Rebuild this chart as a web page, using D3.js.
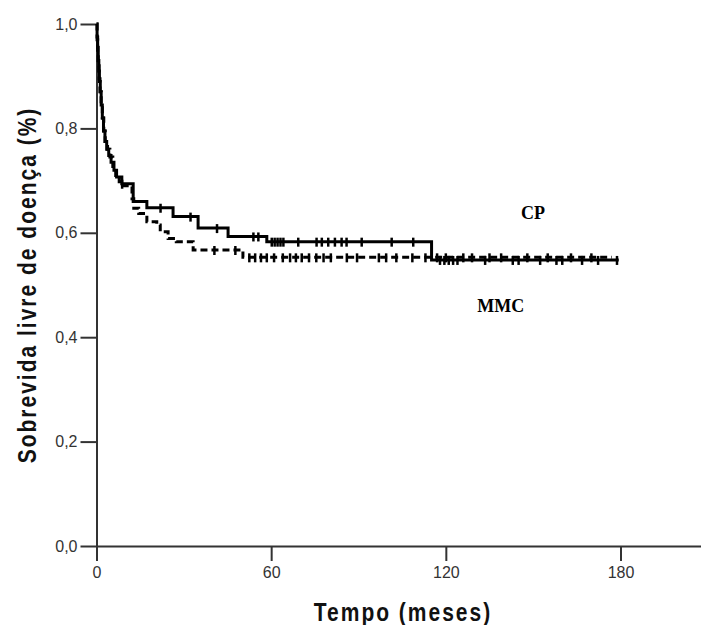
<!DOCTYPE html>
<html>
<head>
<meta charset="utf-8">
<script src="https://cdn.jsdelivr.net/npm/d3@7"></script>
<style>
  html, body { margin: 0; padding: 0; background: #fff; }
  svg { display: block; }
</style>
</head>
<body>
<div id="chart"></div>
<script>
// Kaplan-Meier steps (months, survival after the drop)
const cpTimes = [0, 0.2, 0.4, 0.6, 0.8, 1.0, 1.3, 1.6, 2.0, 2.4, 2.9, 3.5, 4.2, 5.0, 6.0, 6.9, 8.7, 12.6, 17.3, 26.3, 34.9, 45.2, 58.5, 115.1];
const cpSurv  = [1.0, 0.975, 0.955, 0.93, 0.91, 0.89, 0.87, 0.845, 0.82, 0.795, 0.775, 0.76, 0.748, 0.735, 0.72, 0.707, 0.694, 0.66, 0.648, 0.631, 0.609, 0.593, 0.583, 0.548];
const cpEnd = 179.4;
const cpCensor = [8.8, 22, 32.3, 41.4, 53.9, 55.6, 60.2, 61.2, 62.2, 63.2, 64.2, 69.3, 75.6, 77.4, 79.6, 81.9, 84.2, 85.9, 91.1, 101.4, 108.8,
                  118, 119.5, 121, 122.5, 124, 133.5, 143, 145, 152.4, 158, 160, 166.8, 172.3, 178.8];

const mmcTimes = [0, 0.2, 0.4, 0.6, 0.9, 1.2, 1.6, 2.0, 2.5, 3.0, 3.8, 4.6, 5.6, 6.6, 7.8, 9.5, 12.2, 12.8, 14.5, 17.3, 20.7, 21.9, 24.6, 27.4, 33.2, 50.3];
const mmcSurv  = [1.0, 0.97, 0.945, 0.92, 0.895, 0.87, 0.845, 0.82, 0.795, 0.775, 0.76, 0.745, 0.727, 0.71, 0.698, 0.69, 0.665, 0.647, 0.637, 0.621, 0.615, 0.602, 0.589, 0.583, 0.567, 0.553];
const mmcEnd = 177;
const mmcCensor = [40.5, 47.7, 52.5, 54.5, 56.5, 58.5, 61, 64, 66.5, 68.5, 70.5, 73, 75.5, 78, 80.5, 86, 89.5, 97, 99.5, 103, 108.5, 113,
                   117, 120, 126, 129, 135, 139, 148, 155, 163, 170];

const yTicks = [0, 0.2, 0.4, 0.6, 0.8, 1.0];
const xTicks = [0, 60, 120, 180];
const groupLabels = [{ name: 'CP', t: 145.8, s: 0.626 }, { name: 'MMC', t: 130.8, s: 0.448 }];

const W = 701, H = 625;
const svg = d3.select('#chart').append('svg').attr('width', W).attr('height', H);
svg.append('rect').attr('width', W).attr('height', H).attr('fill', '#fff');

const x = d3.scaleLinear().domain([0, 208]).range([96.5, 702]);
const y = d3.scaleLinear().domain([0, 1]).range([546, 24]);

const fmt = (d) => d3.format('.1f')(d).replace('.', ',');

// Axes
const yAxis = svg.append('g').attr('transform', `translate(${x(0)},0)`)
  .call(d3.axisLeft(y).tickValues(yTicks).tickFormat(fmt).tickSize(16).tickSizeOuter(0).tickPadding(3));
const xAxis = svg.append('g').attr('transform', `translate(0,${y(0)})`)
  .call(d3.axisBottom(x).tickValues(xTicks).tickSize(15).tickSizeOuter(0).tickPadding(6));

[yAxis, xAxis].forEach((a) => {
  a.select('.domain').attr('stroke', '#333').attr('stroke-width', 2);
  a.selectAll('.tick line').attr('stroke', '#333').attr('stroke-width', 2);
  a.selectAll('.tick text').attr('fill', '#333').attr('font-family', 'Liberation Sans, Arial, sans-serif').attr('font-size', 16);
});

// Curves
const toSteps = (ts, ss, end) => ts.map((t, i) => [t, ss[i]]).concat([[end, ss[ss.length - 1]]]);
const line = d3.line().x((d) => x(d[0])).y((d) => y(d[1])).curve(d3.curveStepAfter);
const survAt = (ts, ss, t) => ss[d3.bisectRight(ts, t) - 1];

const series = [
  { steps: toSteps(mmcTimes, mmcSurv, mmcEnd), censor: mmcCensor, ts: mmcTimes, ss: mmcSurv, dash: '7,4' },
  { steps: toSteps(cpTimes, cpSurv, cpEnd), censor: cpCensor, ts: cpTimes, ss: cpSurv, dash: null }
];

series.forEach((s) => {
  svg.append('path').datum(s.steps)
    .attr('fill', 'none').attr('stroke', '#000').attr('stroke-width', 3)
    .attr('stroke-dasharray', s.dash).attr('d', line);
  svg.append('g').selectAll('line').data(s.censor).join('line')
    .attr('x1', (d) => x(d)).attr('x2', (d) => x(d))
    .attr('y1', (d) => y(survAt(s.ts, s.ss, d)) - 4)
    .attr('y2', (d) => y(survAt(s.ts, s.ss, d)) + 5)
    .attr('stroke', '#000').attr('stroke-width', 2.5);
});

// Group labels
svg.append('g').selectAll('text').data(groupLabels).join('text')
  .attr('x', (d) => x(d.t)).attr('y', (d) => y(d.s))
  .attr('font-family', 'Liberation Serif, Times New Roman, serif')
  .attr('font-weight', 'bold').attr('font-size', 18)
  .text((d) => d.name);

// Axis titles
svg.append('text')
  .attr('transform', `translate(403,621) scale(1,1.2)`)
  .attr('text-anchor', 'middle')
  .attr('font-family', 'Liberation Sans, Arial, sans-serif').attr('font-weight', 'bold')
  .attr('font-size', 21).attr('letter-spacing', 2).attr('fill', '#111')
  .text('Tempo (meses)');

svg.append('text')
  .attr('transform', `translate(36,285) rotate(-90) scale(1,1.2)`)
  .attr('text-anchor', 'middle')
  .attr('font-family', 'Liberation Sans, Arial, sans-serif').attr('font-weight', 'bold')
  .attr('font-size', 21).attr('letter-spacing', 2).attr('fill', '#111')
  .text('Sobrevida livre de doença (%)');
</script>
</body>
</html>
